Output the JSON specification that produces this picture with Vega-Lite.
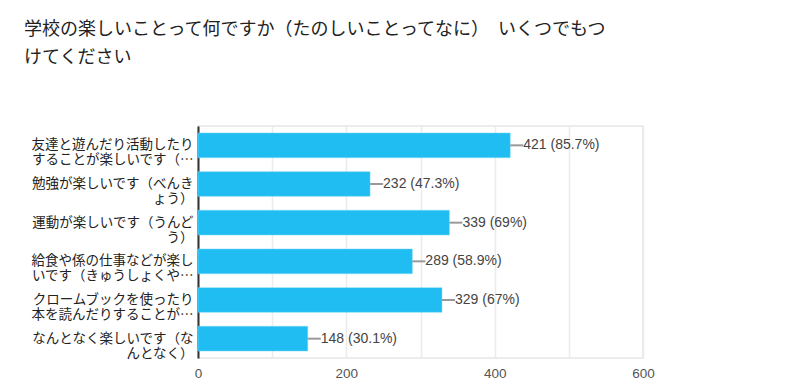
{
  "$schema": "https://vega.github.io/schema/vega-lite/v6.json",
  "width": 445,
  "height": 232,
  "padding": {"left": 24, "top": 21, "right": 10, "bottom": 5},
  "background": "white",
  "title": {
    "text": ["学校の楽しいことって何ですか（たのしいことってなに）　いくつでもつ", "けてください"],
    "anchor": "start",
    "frame": "bounds",
    "font": "Noto Sans CJK JP",
    "fontSize": 18,
    "fontWeight": "normal",
    "color": "#222222",
    "lineHeight": 28,
    "offset": 59
  },
  "config": {
    "view": {"stroke": "#e6e6e6", "strokeWidth": 1.5}
  },
  "data": {
    "values": [
      {"label": "友達と遊んだり活動したり|することが楽しいです（…", "count": 421, "text": "421 (85.7%)"},
      {"label": "勉強が楽しいです（べんき|ょう）", "count": 232, "text": "232 (47.3%)"},
      {"label": "運動が楽しいです（うんど|う）", "count": 339, "text": "339 (69%)"},
      {"label": "給食や係の仕事などが楽し|いです（きゅうしょくや…", "count": 289, "text": "289 (58.9%)"},
      {"label": "クロームブックを使ったり|本を読んだりすることが…", "count": 329, "text": "329 (67%)"},
      {"label": "なんとなく楽しいです（な|んとなく）", "count": 148, "text": "148 (30.1%)"}
    ]
  },
  "encoding": {
    "y": {
      "field": "label",
      "type": "nominal",
      "sort": null,
      "title": null,
      "scale": {"paddingInner": 0.36, "paddingOuter": 0.18},
      "axis": {
        "labelExpr": "split(datum.label, '|')",
        "labelFont": "Noto Sans CJK JP",
        "labelFontSize": 13.5,
        "labelColor": "#222222",
        "labelLineHeight": 15,
        "labelPadding": 5,
        "labelLimit": 200,
        "ticks": false,
        "grid": false,
        "domain": true,
        "domainColor": "#333333",
        "domainWidth": 2,
        "minExtent": 174,
        "maxExtent": 174
      }
    },
    "x": {
      "field": "count",
      "type": "quantitative",
      "title": null,
      "scale": {"domain": [0, 600], "nice": false},
      "axis": {
        "values": [0, 100, 200, 300, 400, 500, 600],
        "labelExpr": "datum.value % 200 == 0 ? datum.label : ''",
        "labelFlush": false,
        "labelFont": "Liberation Sans",
        "labelFontSize": 13.5,
        "labelColor": "#555555",
        "labelPadding": 8,
        "ticks": false,
        "domain": false,
        "grid": true,
        "gridColor": "#ebebeb",
        "gridWidth": 1.5
      }
    }
  },
  "layer": [
    {
      "mark": {"type": "bar", "color": "#20bdf2", "stroke": "#7fd6f6", "strokeWidth": 0.5}
    },
    {
      "mark": {"type": "rule", "color": "#999999", "strokeWidth": 2, "x2Offset": 13},
      "encoding": {"x2": {"field": "count"}}
    },
    {
      "mark": {"type": "text", "align": "left", "baseline": "middle", "dx": 13, "font": "Liberation Sans", "fontSize": 14, "color": "#444444"},
      "encoding": {"text": {"field": "text"}}
    }
  ]
}
